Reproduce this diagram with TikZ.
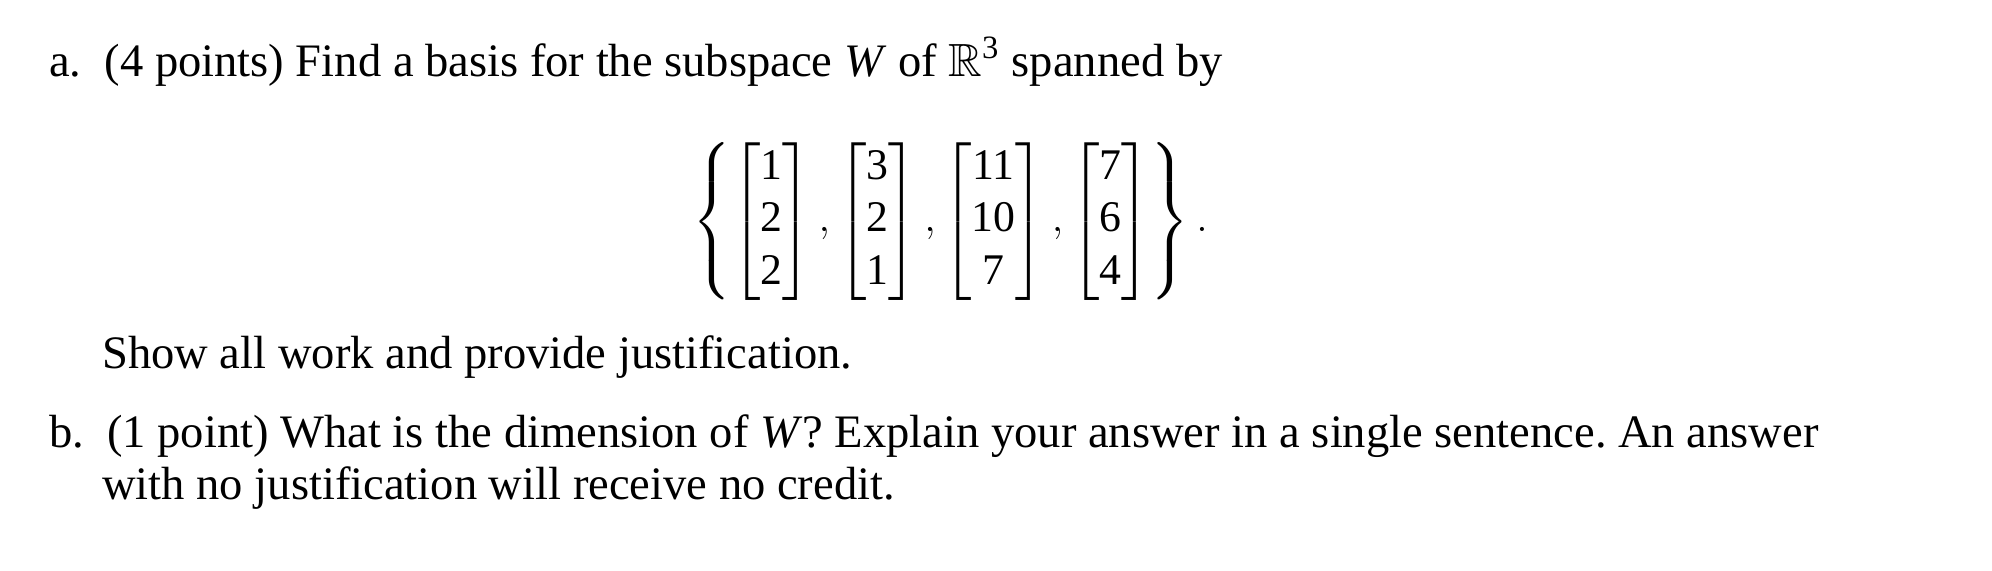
\documentclass[tikz,border=0pt]{standalone}
\usepackage{amsmath,amssymb}
\usepackage{fontspec}
\setmainfont{Liberation Serif}
\frenchspacing
\tikzset{txt/.style={anchor=base west,inner sep=0pt,font=\fontsize{13.3pt}{16pt}\selectfont}}
\newcommand{\tr}[1]{\text{#1}}
\begin{document}
\begin{tikzpicture}
\useasboundingbox (0,0) rectangle (20,5.723);
\node[txt] (a) at (0.485,4.957) {a.\ \ (4 points) Find a basis for the subspace \textit{W} of $\mathbb{R}^{\tr{3}}$ spanned by};
\node[anchor=center,inner sep=0pt,font=\fontsize{12.5pt}{15pt}\selectfont] (m) at (9.54,3.5) {\renewcommand{\arraystretch}{1.0}$\left\{\begin{bmatrix}\tr{1}\\\tr{2}\\\tr{2}\end{bmatrix},\begin{bmatrix}\tr{3}\\\tr{2}\\\tr{1}\end{bmatrix},\begin{bmatrix}\tr{11}\\\tr{10}\\\tr{7}\end{bmatrix},\begin{bmatrix}\tr{7}\\\tr{6}\\\tr{4}\end{bmatrix}\right\}.$};
\node[txt] (s) at (1.02,2.02) {Show all work and provide justification.};
\node[txt] (b) at (0.485,1.23) {b.\ \ (1 point) What is the dimension of \textit{W}? Explain your answer in a single sentence. An answer};
\node[txt] (w) at (1.02,0.71) {with no justification will receive no credit.};
\end{tikzpicture}
\end{document}
